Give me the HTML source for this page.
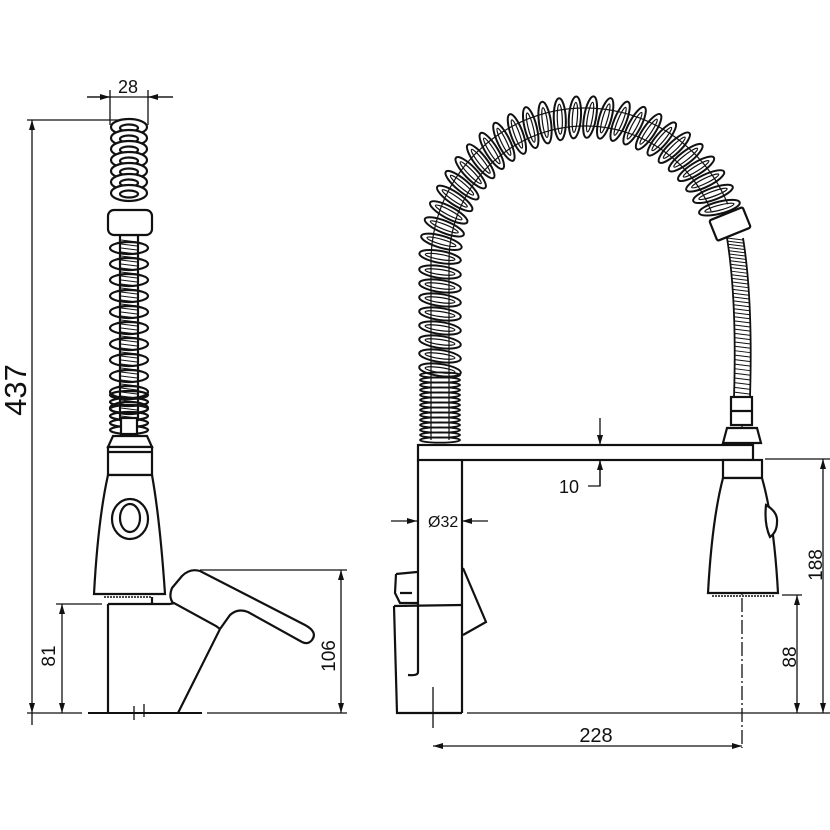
<!DOCTYPE html>
<html><head><meta charset="utf-8"><style>
html,body{margin:0;padding:0;background:#fff;}
svg{display:block;}
text{font-family:"Liberation Sans",sans-serif;fill:#111;}
</style></head><body>
<svg id="s" width="830" height="830" viewBox="0 0 830 830" xmlns="http://www.w3.org/2000/svg">
<defs>
<marker id="a" viewBox="0 0 10 10" refX="10" refY="5" markerWidth="10" markerHeight="10" orient="auto-start-reverse" markerUnits="userSpaceOnUse"><path d="M0,2 L10,5 L0,8 Z" fill="#111"/></marker>
</defs>
<g stroke="#111" fill="none" stroke-width="1.3">
<line x1="87" y1="97" x2="173" y2="97" />
<line x1="87" y1="97" x2="110" y2="97" marker-end="url(#a)"/>
<line x1="173" y1="97" x2="148" y2="97" marker-end="url(#a)"/>
<line x1="110" y1="90" x2="110" y2="125"/>
<line x1="148" y1="90" x2="148" y2="125"/>
<line x1="27" y1="120" x2="125" y2="120"/>
<line x1="32" y1="120" x2="32" y2="713" marker-start="url(#a)" marker-end="url(#a)"/>
<line x1="32" y1="713" x2="32" y2="725"/>
<line x1="56" y1="604" x2="102" y2="604"/>
<line x1="62" y1="604" x2="62" y2="713" marker-start="url(#a)" marker-end="url(#a)"/>
<line x1="200" y1="570" x2="347" y2="570"/>
<line x1="341" y1="570" x2="341" y2="713" marker-start="url(#a)" marker-end="url(#a)"/>
<line x1="27" y1="713" x2="82" y2="713"/>
<line x1="88" y1="713" x2="202" y2="713" stroke-width="2"/>
<line x1="207" y1="713" x2="347" y2="713"/>
<line x1="134" y1="706" x2="134" y2="720"/><line x1="144" y1="704" x2="144" y2="717"/>
</g>
<g stroke="#111" fill="none" stroke-width="2.2">
<rect x="120" y="235" width="18" height="185" fill="#fff"/>
<g id="lefthose"></g>
<rect x="108" y="210" width="44" height="25" rx="6" fill="#fff"/>
<rect x="121" y="418" width="16" height="16" fill="#fff"/>
<path d="M113,436 L147,436 L152,447 L108,447 Z" fill="#fff"/>
<rect x="108" y="447" width="44" height="28" fill="#fff"/>
<line x1="108" y1="452" x2="152" y2="452"/>
<path d="M108,475 L152,475 Q160,520 165,594 L94,594 Q98,520 108,475 Z" fill="#fff"/>
<ellipse cx="130" cy="519" rx="18" ry="20"/>
<ellipse cx="130" cy="518" rx="10" ry="14"/>
<line x1="104" y1="597" x2="152" y2="597" stroke-width="1.5" stroke-dasharray="2 1"/>
<line x1="108" y1="604" x2="108" y2="713"/>
<line x1="108" y1="604" x2="170" y2="604"/>
<line x1="152" y1="597" x2="152" y2="604"/>
<path d="M178,713 L220,629"/>
<path d="M170,604 L174,603 L216,626 L220,629"/>
<path d="M174,604 Q168,598 172,588 L182,576 Q190,568 200,571 L305,625 Q318,632 312,640 Q308,645 302,642 L248,612 Q238,608 230,615 L220,629"/>
</g>
<text x="128" y="93" font-size="18" text-anchor="middle">28</text>
<text transform="translate(26,390) rotate(-90)" font-size="31" text-anchor="middle">437</text>
<text transform="translate(55,656) rotate(-90)" font-size="19" text-anchor="middle">81</text>
<text transform="translate(335,656) rotate(-90)" font-size="19" text-anchor="middle">106</text>

<g stroke="#111" fill="none" stroke-width="1.3">
<line x1="742" y1="400" x2="742" y2="748" stroke-dasharray="14 3 2 3"/>
<line x1="765" y1="459" x2="830" y2="459"/>
<line x1="467" y1="713" x2="830" y2="713"/>
<line x1="823" y1="459" x2="823" y2="713" marker-start="url(#a)" marker-end="url(#a)"/>
<line x1="782" y1="595" x2="802" y2="595"/>
<line x1="797" y1="595" x2="797" y2="713" marker-start="url(#a)" marker-end="url(#a)"/>
<line x1="433" y1="746" x2="742" y2="746" marker-start="url(#a)" marker-end="url(#a)"/>
<line x1="433" y1="687" x2="433" y2="728"/>
<line x1="391" y1="521" x2="417" y2="521" marker-end="url(#a)"/>
<line x1="488" y1="521" x2="462" y2="521" marker-end="url(#a)"/>
<line x1="600" y1="418" x2="600" y2="445" marker-end="url(#a)"/>
<line x1="600" y1="486" x2="600" y2="460" marker-end="url(#a)"/>
<polyline points="600,460 600,486 588,486"/>
</g>
<text x="428" y="527" font-size="16">Ø32</text>
<text x="559" y="493" font-size="18">10</text>
<text x="596" y="742" font-size="20" text-anchor="middle">228</text>
<text transform="translate(822,565) rotate(-90)" font-size="19" text-anchor="middle">188</text>
<text transform="translate(796,657) rotate(-90)" font-size="19" text-anchor="middle">88</text>

<g stroke="#111" fill="none" stroke-width="2.2">
<g id="righthose"></g>
<rect x="418" y="445" width="335" height="15" fill="#fff"/>
<path d="M418,460 L418,672 Q418,676 408,675"/>
<line x1="462" y1="460" x2="462" y2="713"/>
<path d="M394,606 L462,605 M394,606 L397,713 L462,713"/>
<path d="M396,574 L417,572 M396,574 L395,593 L400,603 L417,603 M400,593 L412,593"/>
<path d="M463,568 L486,622 L463,635"/>
<rect x="731" y="397" width="21" height="28" fill="#fff"/>
<line x1="731" y1="411" x2="752" y2="411"/>
<path d="M727,428 L757,428 L761,443 L723,443 Z" fill="#fff"/>
<rect x="723" y="460" width="39" height="18" fill="#fff"/>
<path d="M723,478 L762,478 Q774,520 778,593 L708,593 Q712,520 723,478 Z" fill="#fff"/>
<path d="M766,505 Q778,512 777,522 Q777,532 770,537 Q764,524 766,505 Z" fill="#fff"/>
<line x1="712" y1="596" x2="774" y2="596" stroke-width="1.5" stroke-dasharray="2 1"/>
</g>
</svg>
<script>
(function(){
var NS="http://www.w3.org/2000/svg";
function el(p,n,a){var e=document.createElementNS(NS,n);for(var k in a)e.setAttribute(k,a[k]);p.appendChild(e);return e;}
var L=document.getElementById('lefthose');
for(var y=127;y<=203;y+=11){el(L,'ellipse',{cx:129,cy:y,rx:18,ry:8,fill:'#fff'});el(L,'ellipse',{cx:129,cy:y+1,rx:9,ry:3.5});}
for(var y=240;y<=418;y+=4){el(L,'line',{x1:121,y1:y,x2:137,y2:y+2,'stroke-width':1});}
for(var y=248;y<=410;y+=16){el(L,'ellipse',{cx:129,cy:y,rx:19,ry:6});}
for(var y=395;y<=430;y+=7){el(L,'ellipse',{cx:129,cy:y,rx:19,ry:4});}
var R=document.getElementById('righthose');
var pts=[];
for(var y=440;y>=262;y-=2)pts.push([440,y]);
var cx=585,cy=262,r=145;
for(var t=180;t>=22;t-=1){var a=t*Math.PI/180;pts.push([cx+r*Math.cos(a),cy-r*Math.sin(a)]);}
function tang(i){var p=pts[Math.max(0,i-1)],q=pts[Math.min(pts.length-1,i+1)];return Math.atan2(q[1]-p[1],q[0]-p[0])*180/Math.PI;}
var d1="",d2="";
for(var i=0;i<pts.length;i++){var an=tang(i)*Math.PI/180;var nx=-Math.sin(an),ny=Math.cos(an);
d1+=(i?"L":"M")+(pts[i][0]+nx*9).toFixed(1)+","+(pts[i][1]+ny*9).toFixed(1);
d2+=(i?"L":"M")+(pts[i][0]-nx*9).toFixed(1)+","+(pts[i][1]-ny*9).toFixed(1);}
el(R,'path',{d:d1,'stroke-width':1.2});el(R,'path',{d:d2,'stroke-width':1.2});
for(var y=440;y>=372;y-=5){el(R,'ellipse',{cx:440,cy:y,rx:20,ry:2.6,'stroke-width':1.8});}
var cum=0;
for(var i=1;i<pts.length;i++){var dx=pts[i][0]-pts[i-1][0],dy=pts[i][1]-pts[i-1][1];cum+=Math.sqrt(dx*dx+dy*dy);
 if(pts[i][1]>370&&pts[i][0]<450)continue;
 if(cum>=14){cum=0;var ang=tang(i);
  var tr='rotate('+(ang+8).toFixed(1)+' '+pts[i][0].toFixed(1)+' '+pts[i][1].toFixed(1)+')';
  el(R,'ellipse',{cx:pts[i][0].toFixed(1),cy:pts[i][1].toFixed(1),rx:6,ry:21,transform:tr,'stroke-width':2});
  el(R,'ellipse',{cx:pts[i][0].toFixed(1),cy:pts[i][1].toFixed(1),rx:2.5,ry:15,transform:tr,'stroke-width':1.2});
 }}
el(R,'rect',{x:-18,y:-11,width:36,height:22,rx:2,fill:'#fff',transform:'translate(730,224) rotate(-22)'});
var hp=[];for(var k=0;k<=40;k++){var s=k/40;var x=(1-s)*(1-s)*735+2*s*(1-s)*745+s*s*742;var y=(1-s)*(1-s)*238+2*s*(1-s)*300+s*s*397;hp.push([x,y]);}
var h1="",h2="";hp.forEach(function(p,i){h1+=(i?"L":"M")+(p[0]-8)+","+p[1];h2+=(i?"L":"M")+(p[0]+8)+","+p[1];});
el(R,'path',{d:h1,'stroke-width':1.8});el(R,'path',{d:h2,'stroke-width':1.8});
for(var k=0;k<hp.length;k+=1){el(R,'line',{x1:hp[k][0]-8,y1:hp[k][1],x2:hp[k][0]+8,y2:hp[k][1]+2,'stroke-width':1});}
})();
</script>
</body></html>
